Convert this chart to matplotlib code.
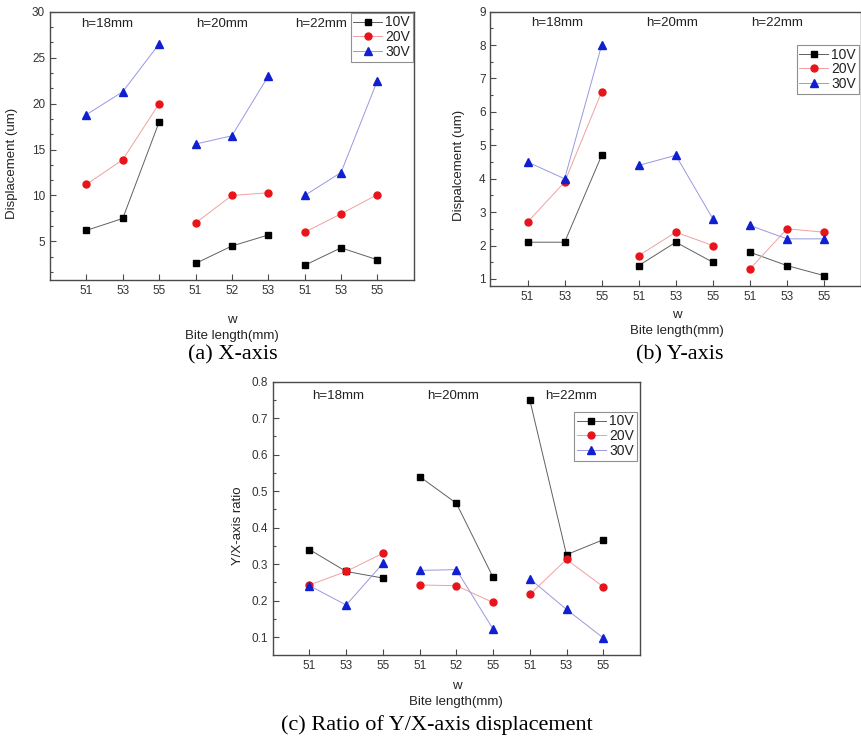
import numpy as np
import matplotlib
matplotlib.use("Agg")
import matplotlib.pyplot as plt
from matplotlib.ticker import AutoMinorLocator, MultipleLocator

# ---- data ----
groups = ["h=18mm", "h=20mm", "h=22mm"]
voltages = ["10V", "20V", "30V"]

x_labels_a = ["51", "53", "55", "51", "52", "53", "51", "53", "55"]
disp_x_10v = [6.2, 7.5, 18.0, 2.6, 4.5, 5.7, 2.4, 4.3, 3.0]
disp_x_20v = [11.2, 13.9, 20.0, 7.0, 10.0, 10.3, 6.0, 8.0, 10.1]
disp_x_30v = [18.8, 21.3, 26.5, 15.6, 16.5, 23.0, 10.0, 12.5, 22.5]

x_labels_b = ["51", "53", "55", "51", "53", "55", "51", "53", "55"]
disp_y_10v = [2.1, 2.1, 4.7, 1.4, 2.1, 1.5, 1.8, 1.4, 1.1]
disp_y_20v = [2.7, 3.9, 6.6, 1.7, 2.4, 2.0, 1.3, 2.5, 2.4]
disp_y_30v = [4.5, 4.0, 8.0, 4.4, 4.7, 2.8, 2.6, 2.2, 2.2]

x_labels_c = ["51", "53", "55", "51", "52", "55", "51", "53", "55"]
ratio_10v = [0.340, 0.280, 0.262, 0.540, 0.467, 0.264, 0.750, 0.326, 0.367]
ratio_20v = [0.243, 0.280, 0.330, 0.243, 0.241, 0.195, 0.217, 0.313, 0.238]
ratio_30v = [0.241, 0.188, 0.302, 0.283, 0.285, 0.122, 0.260, 0.176, 0.098]

SANS = "Liberation Sans"
SERIF = "Liberation Serif"
SPINE = "#4a4a4a"

STYLES = {
    "10V": dict(marker="s", ms=4.6, mfc="black", mec="black", line="#606060"),
    "20V": dict(marker="o", ms=5.0, mfc="#e8141b", mec="#e8141b", line="#f0a0a0"),
    "30V": dict(marker="^", ms=5.4, mfc="#1020d0", mec="#1020d0", line="#9898e0"),
}


def draw_panel(ax, labels, series, ylim, major, minor_n, group_pos, group_y,
               legend_anchor):
    x = np.arange(len(labels))
    for name, vals in zip(voltages, series):
        st = STYLES[name]
        vals = np.asarray(vals)
        for g in range(3):
            sl = slice(3 * g, 3 * g + 3)
            ax.plot(x[sl], vals[sl], color=st["line"], lw=0.7, zorder=2)
            ax.plot(x[sl], vals[sl], ls="none", marker=st["marker"],
                    ms=st["ms"], mfc=st["mfc"], mec=st["mec"], zorder=3)
    # legend handles with marker on top of the line
    handles = [plt.Line2D([], [], color=STYLES[v]["line"], lw=0.7,
                          marker=STYLES[v]["marker"], ms=STYLES[v]["ms"],
                          mfc=STYLES[v]["mfc"], mec=STYLES[v]["mec"])
               for v in voltages]
    leg = ax.legend(handles, voltages, loc="upper right",
                    bbox_to_anchor=legend_anchor, borderaxespad=0,
                    prop={"family": SANS, "size": 10}, fancybox=False,
                    framealpha=1, edgecolor="#909090", borderpad=0.2,
                    labelspacing=0.05, handlelength=2.05, handletextpad=0.25)
    leg.get_frame().set_linewidth(0.8)
    for t in leg.get_texts():
        t.set_color("#222222")

    for txt, gx in zip(groups, group_pos):
        ax.text(gx, group_y, txt, ha="center", va="center",
                fontsize=9.5, family=SANS, color="#222222")

    ax.set_xlim(-1, 9)
    ax.set_ylim(*ylim)
    ax.set_xticks(x)
    ax.set_xticklabels(labels)
    ax.yaxis.set_major_locator(MultipleLocator(major))
    ax.yaxis.set_minor_locator(AutoMinorLocator(minor_n))
    ax.tick_params(axis="both", which="both", direction="in", top=False,
                   right=False, colors=SPINE, labelcolor="#333333",
                   labelsize=8.5, width=0.8)
    ax.tick_params(axis="both", which="major", length=4)
    ax.tick_params(axis="y", which="minor", length=2.5)
    for lab in ax.get_xticklabels() + ax.get_yticklabels():
        lab.set_family(SANS)
    for sp in ax.spines.values():
        sp.set_color(SPINE)
        sp.set_linewidth(1.0)


def main():
    fig = plt.figure(figsize=(8.62, 7.38), dpi=100)

    ax_a = fig.add_axes([0.058, 0.6206, 0.422, 0.3634])
    ax_b = fig.add_axes([0.569, 0.6125, 0.430, 0.3717])
    ax_c = fig.add_axes([0.3164, 0.1129, 0.426, 0.3699])

    draw_panel(ax_a, x_labels_a, [disp_x_10v, disp_x_20v, disp_x_30v],
               (0.8, 30), 5, 3, [0.58, 3.73, 6.46], 28.7, (0.998, 0.997))
    ax_a.set_yticks([5, 10, 15, 20, 25, 30])

    draw_panel(ax_b, x_labels_b, [disp_y_10v, disp_y_20v, disp_y_30v],
               (0.79, 9), 1, 2, [0.79, 3.91, 6.74], 8.65, (0.994, 0.879))
    ax_b.set_yticks(np.arange(1, 10))

    draw_panel(ax_c, x_labels_c, [ratio_10v, ratio_20v, ratio_30v],
               (0.052, 0.8), 0.1, 2, [0.78, 3.9, 7.12], 0.762, (0.991, 0.890))
    ax_c.set_yticks(np.round(np.arange(0.1, 0.81, 0.1), 1))
    ax_c.set_yticklabels([f"{v:.1f}" for v in np.arange(0.1, 0.81, 0.1)],
                         family=SANS)

    # y labels
    lab_kw = dict(rotation=90, ha="center", va="center", fontsize=9.5,
                  family=SANS, color="#222222")
    fig.text(0.0136, 0.779, "Displacement (um)", **lab_kw)
    fig.text(0.533, 0.776, "Dispalcement (um)", **lab_kw)
    fig.text(0.2765, 0.2877, "Y/X-axis ratio", **lab_kw)

    # x labels
    xl_kw = dict(ha="center", va="center", fontsize=9.5, family=SANS,
                 color="#222222")
    fig.text(0.269, 0.566, "w", **xl_kw)
    fig.text(0.269, 0.545, "Bite length(mm)", **xl_kw)
    fig.text(0.785, 0.573, "w", **xl_kw)
    fig.text(0.785, 0.551, "Bite length(mm)", **xl_kw)
    fig.text(0.53, 0.071, "w", **xl_kw)
    fig.text(0.529, 0.049, "Bite length(mm)", **xl_kw)

    # captions
    cap_kw = dict(ha="center", va="center", fontsize=16, family=SERIF,
                  color="black")
    fig.text(0.270, 0.519, "(a) X-axis", **cap_kw)
    fig.text(0.788, 0.519, "(b) Y-axis", **cap_kw)
    fig.text(0.507, 0.0176, "(c) Ratio of Y/X-axis displacement", **cap_kw)

    fig.savefig("out.png", dpi=100)
    plt.close(fig)


if __name__ == "__main__":
    main()
